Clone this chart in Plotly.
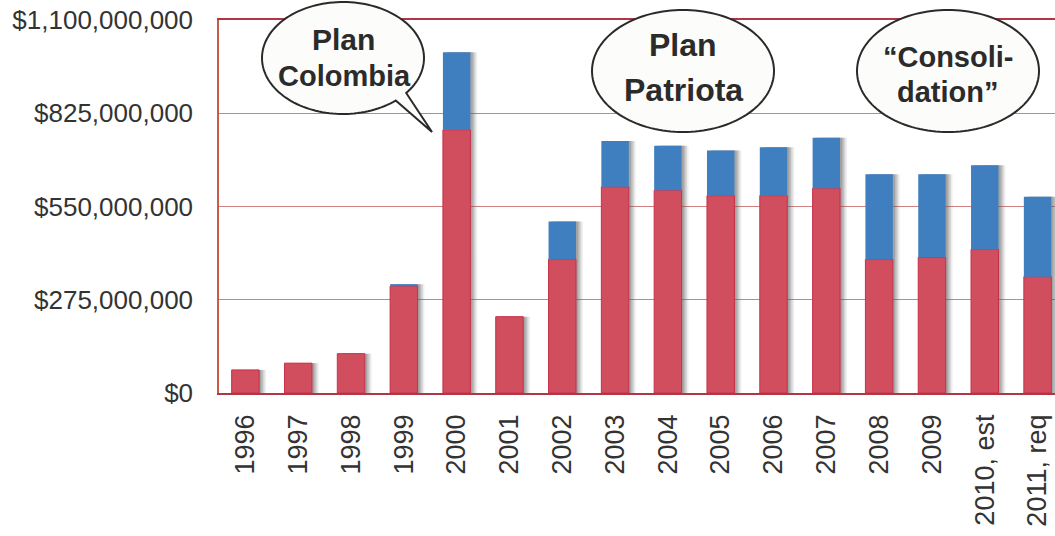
import numpy as np
import plotly.graph_objects as go

# US aid to Colombia by fiscal year (US$)
years = ["1996", "1997", "1998", "1999", "2000", "2001", "2002", "2003",
         "2004", "2005", "2006", "2007", "2008", "2009", "2010, est", "2011, req"]
military_police = [68e6, 88e6, 116e6, 315e6, 776e6, 225e6, 394e6, 608e6,
                   598e6, 582e6, 582e6, 604e6, 394e6, 400e6, 424e6, 343e6]
economic_social = [0, 0, 0, 6e6, 229e6, 0, 112e6, 135e6,
                   131e6, 133e6, 143e6, 149e6, 251e6, 245e6, 248e6, 236e6]
totals = [a + b for a, b in zip(military_police, economic_social)]

y_ticks = [0, 275e6, 550e6, 825e6, 1100e6]
y_tick_text = ["$0", "$275,000,000", "$550,000,000", "$825,000,000", "$1,100,000,000"]

RED = "#d04e5e"
BLUE = "#3f7fbf"

# plot-area geometry in pixels (used for the callout shapes)
W, H = 1055, 536
L, R, T, B = 219, 1055, 20, 393

BAR_W = 0.52
fig = go.Figure()

# soft drop shadows behind each bar
for shift, op in [(0.13, 0.10), (0.10, 0.16), (0.07, 0.22), (0.04, 0.25)]:
    fig.add_trace(go.Bar(x=years, y=totals, width=BAR_W, offset=-BAR_W / 2 + shift,
                         marker=dict(color="#606060", line=dict(width=0)),
                         opacity=op, hoverinfo="skip", showlegend=False))

fig.add_trace(go.Bar(x=years, y=military_police, width=BAR_W, offset=-BAR_W / 2,
                     marker=dict(color=RED, line=dict(color="#c8304a", width=1)),
                     showlegend=False))
fig.add_trace(go.Bar(x=years, y=[v if v > 0 else None for v in economic_social],
                     base=military_police, width=BAR_W, offset=-BAR_W / 2,
                     marker=dict(color=BLUE, line=dict(width=0)),
                     showlegend=False))


def px_to_paper(px, py):
    return (px - L) / (R - L), (B - py) / (B - T)


def bubble_path(cx, cy, rx, ry, tail=None, n=140):
    """Closed ellipse path in paper coords; optional speech tail (a0, a1, tip)."""
    if tail is None:
        ts = np.linspace(0, 2 * np.pi, n, endpoint=False)
        pts = [(cx + rx * np.cos(t), cy + ry * np.sin(t)) for t in ts]
    else:
        a0, a1, tip = tail
        ts = np.linspace(np.radians(a1), np.radians(a0) + 2 * np.pi, n)
        pts = [(cx + rx * np.cos(t), cy + ry * np.sin(t)) for t in ts]
        pts.append(tip)
    segs = []
    for i, (x, y) in enumerate(pts):
        xp, yp = px_to_paper(x, y)
        segs.append(("M" if i == 0 else "L") + f"{xp:.5f},{yp:.5f}")
    return " ".join(segs) + " Z"


bubble_style = dict(type="path", xref="paper", yref="paper",
                    fillcolor="#fcfcfa", line=dict(color="#2a2a2a", width=2), layer="above")

shapes = [
    dict(path=bubble_path(343, 58, 81, 56, tail=(38.7, 49.4, (432, 132))), **bubble_style),
    dict(path=bubble_path(683, 71, 91, 61), **bubble_style),
    dict(path=bubble_path(948, 71, 91, 61), **bubble_style),
]

callouts = [
    ("Plan", 343, 39, 30), ("Colombia", 344, 76, 29),
    ("Plan", 683, 45, 32), ("Patriota", 683, 90, 32),
    ("\u201cConsoli-", 948, 57, 29), ("dation\u201d", 948, 92, 29),
]
annotations = []
for text, px, py, size in callouts:
    xp, yp = px_to_paper(px, py)
    annotations.append(dict(text=f"<b>{text}</b>", x=xp, y=yp, xref="paper", yref="paper",
                            showarrow=False, xanchor="center", yanchor="middle",
                            font=dict(family="Liberation Sans, Arial, sans-serif",
                                      size=size, color="#2b2b2b")))

fig.update_layout(
    width=W, height=H,
    margin=dict(l=L, r=W - R, t=T, b=H - B),
    barmode="overlay",
    paper_bgcolor="white", plot_bgcolor="white",
    font=dict(family="Liberation Sans, Arial, sans-serif", color="#333333"),
    shapes=shapes, annotations=annotations,
    xaxis=dict(type="category", range=[-0.5, 15.33], tickangle=-90,
               tickfont=dict(size=27, color="#333333"), ticks="",
               ticklabelstandoff=9,
               showline=True, linecolor="#b03545", linewidth=1.5, mirror=True,
               showgrid=False, zeroline=False, fixedrange=True),
    yaxis=dict(range=[0, 1.1e9], tickvals=y_ticks, ticktext=y_tick_text,
               tickfont=dict(size=26, color="#333333"), ticks="",
               ticklabelstandoff=19,
               showline=True, linecolor="#cc5a4a", linewidth=1.5,
               showgrid=True, gridcolor="#cf8080", gridwidth=1,
               zeroline=False, fixedrange=True),
)

fig.write_html("out.html")
